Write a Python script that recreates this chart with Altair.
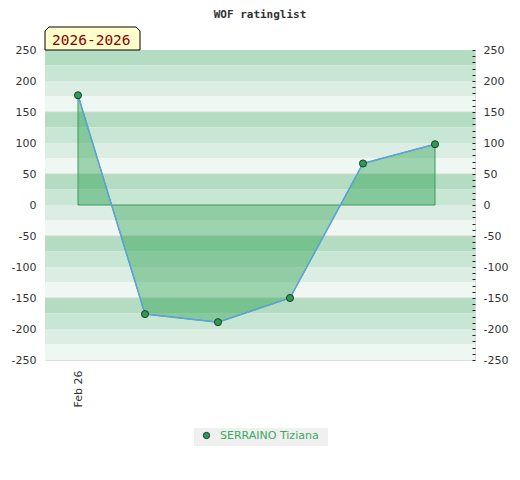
import altair as alt
import pandas as pd

# ---- data ----
player = "SERRAINO Tiziana"
game_times = ["2026-02-26T00:00", "2026-02-26T02:14", "2026-02-26T04:40",
              "2026-02-26T07:04", "2026-02-26T09:30", "2026-02-26T11:54"]
rating_change = [177, -176, -189, -150, 67, 98]
season_label = "2026-2026"
chart_title = "WOF ratinglist"
y_label_ticks = list(range(-250, 251, 50))
y_minor_ticks = list(range(-250, 251, 10))
grid_lines = [150, 50, -50, -150]
band_tops = list(range(250, -250, -25))
band_colors = ["#b3dcc2", "#c8e6d4", "#dcede3", "#eff7f2"]

df = pd.DataFrame({"time": game_times, "change": rating_change, "player": player})
bands = pd.DataFrame({
    "top": band_tops,
    "bottom": [t - 25 for t in band_tops],
    "level": [i % 4 for i in range(len(band_tops))],
})
grid_df = pd.DataFrame({"v": grid_lines})
label_df = pd.DataFrame({"label": [season_label]})
title_df = pd.DataFrame({"title": [chart_title]})
player_df = pd.DataFrame({"player": [player]})

yscale = alt.Scale(domain=[-250, 250], nice=False, zero=False)
xscale = alt.Scale(domain=[alt.DateTime(year=2026, month=2, date=25, hours=22, minutes=54),
                           alt.DateTime(year=2026, month=2, date=26, hours=13, minutes=14)])

band_layer = alt.Chart(bands).mark_rect().encode(
    y=alt.Y("top:Q", scale=yscale,
            axis=alt.Axis(orient="left", values=y_label_ticks, ticks=False, tickSize=0,
                          labelExpr="'' + datum.value",
                          domain=False, grid=False, labelPadding=9, title=None,
                          labelFont="DejaVu Sans", labelFontSize=11, labelColor="#333")),
    y2="bottom:Q",
    fill=alt.Fill("level:O", scale=alt.Scale(domain=[0, 1, 2, 3], range=band_colors), legend=None),
)

grid_layer = alt.Chart(grid_df).mark_rule(color="#d6d6d6", strokeWidth=1).encode(
    y=alt.Y("v:Q", scale=yscale,
            axis=alt.Axis(orient="right", values=y_minor_ticks,
                          labelExpr="datum.value % 50 === 0 ? '' + datum.value : ''",
                          tickSize=3, tickColor="#222", tickWidth=1, offset=-3, domain=False,
                          grid=False, zindex=2,
                          labelPadding=8, title=None, labelFont="DejaVu Sans",
                          labelFontSize=11, labelColor="#333")),
)

xaxis = alt.Axis(values=[alt.DateTime(year=2026, month=2, date=26)], format="%b %d",
                 labelAngle=270, ticks=False, domain=False, grid=False, labelPadding=10,
                 title=None, labelFont="DejaVu Sans", labelFontSize=11, labelColor="#333")

area_layer = alt.Chart(df).mark_area(fill="#11963a", fillOpacity=0.37, stroke="#3a9a5a",
                                     strokeWidth=1).encode(
    x=alt.X("time:T", scale=xscale, axis=xaxis),
    y=alt.Y("change:Q", scale=yscale, axis=None),
    y2=alt.Y2(datum=0),
)

line_layer = alt.Chart(df).mark_line(color="#5da2dc", strokeWidth=1.5).encode(
    x=alt.X("time:T", scale=xscale),
    y=alt.Y("change:Q", scale=yscale, axis=None),
)

legend_bg = alt.Chart(player_df).mark_rect(fill="#f0f0f0").encode(
    x=alt.value(149), x2=alt.value(283), y=alt.value(378), y2=alt.value(396),
)

point_layer = alt.Chart(df).mark_circle(size=50, stroke="#1d3d28", strokeWidth=1,
                                        opacity=1).encode(
    x=alt.X("time:T", scale=xscale),
    y=alt.Y("change:Q", scale=yscale, axis=None),
    color=alt.Color("player:N", scale=alt.Scale(range=["#2e9a55"]),
                    legend=alt.Legend(orient="none", legendX=156, legendY=380, title=None,
                                      labelColor="#3aaa5c", labelFont="DejaVu Sans",
                                      labelFontSize=11, symbolType="circle", symbolSize=40,
                                      symbolStrokeColor="#1d3d28", symbolStrokeWidth=1,
                                      labelOffset=8, padding=0)),
)

box_path = "M-1,0.242 L-1,-0.158 L-0.916,-0.242 L0.916,-0.242 L1,-0.158 L1,0.242 Z"
box_layer = alt.Chart(label_df).mark_point(shape=box_path, size=9025, filled=True,
                                           fill="#ffffcc", stroke="#000000", strokeWidth=1,
                                           opacity=1).encode(
    x=alt.value(47.5), y=alt.value(-11.5),
)

text_layer = alt.Chart(label_df).mark_text(align="left", baseline="alphabetic",
                                           font="DejaVu Sans Mono", fontSize=14.5,
                                           color="#8b0000").encode(
    x=alt.value(7), y=alt.value(-5), text="label:N",
)

title_layer = alt.Chart(title_df).mark_text(align="center", baseline="alphabetic",
                                            font="DejaVu Sans Mono", fontSize=11,
                                            fontWeight="bold", color="#333").encode(
    x=alt.value(215), y=alt.value(-32), text="title:N",
)

chart = alt.layer(
    band_layer, grid_layer, area_layer, line_layer, legend_bg, point_layer, box_layer,
    text_layer, title_layer
).resolve_scale(y="independent", fill="independent").properties(
    width=430, height=310,
    autosize=alt.AutoSizeParams(type="none"),
    padding={"left": 37, "top": 42, "right": 37, "bottom": 112},
).configure_view(stroke="#d3d3d3", strokeWidth=1).configure(background="white")

chart.save("out.html", embed_options={"renderer": "svg", "actions": False})
